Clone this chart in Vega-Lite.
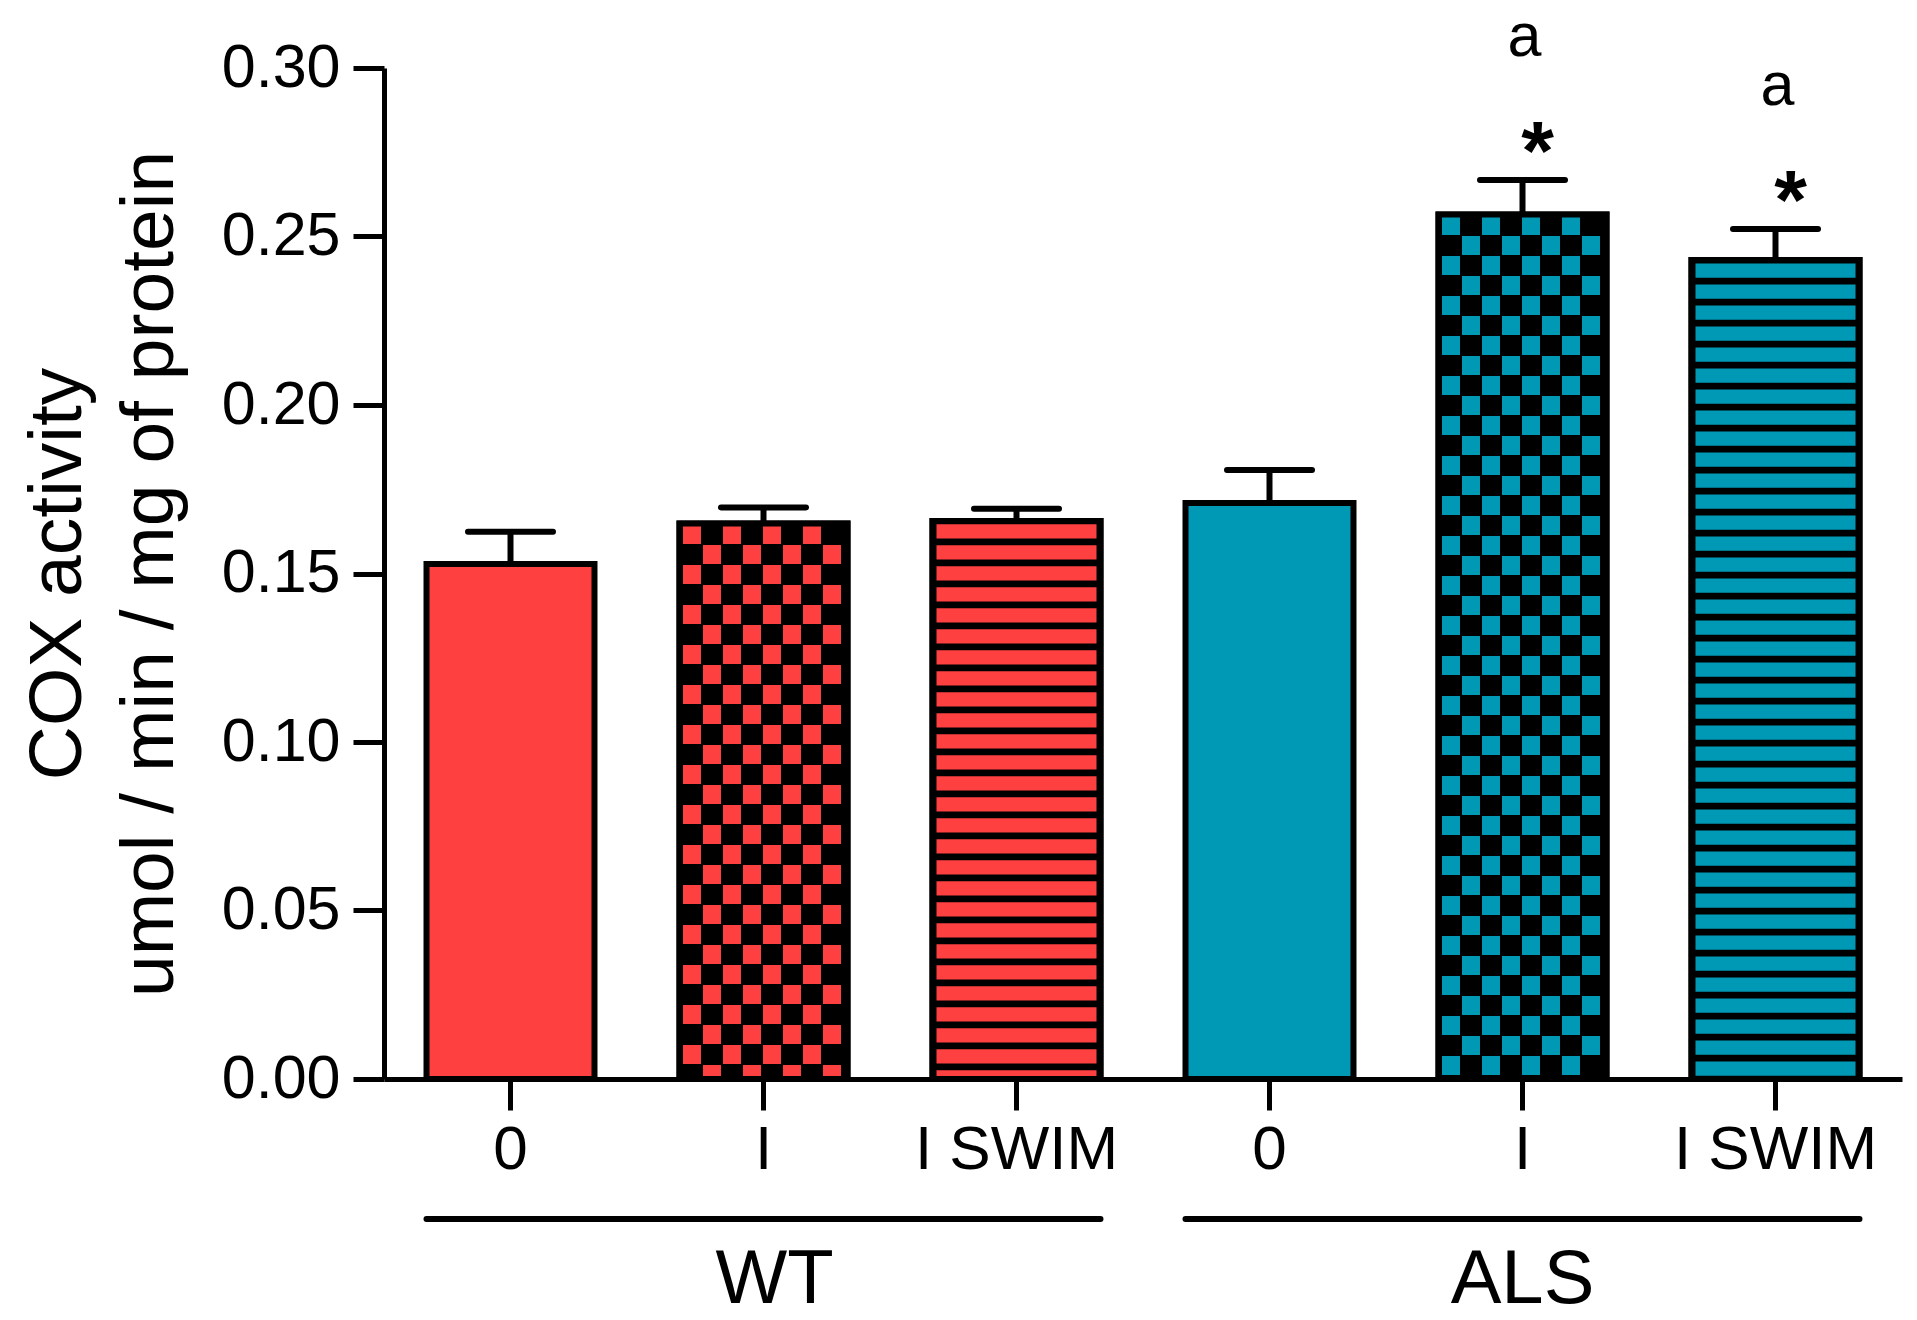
{
  "$schema": "https://vega.github.io/schema/vega-lite/v6.json",
  "autosize": {"type": "none"},
  "padding": {"left": 384, "top": 68, "right": 15, "bottom": 241},
  "width": 1518,
  "height": 1011,
  "background": "white",
  "config": {
    "view": {"stroke": null},
    "font": "Liberation Sans",
    "axis": {
      "domainColor": "black", "tickColor": "black", "labelColor": "black", "titleColor": "black",
      "grid": false, "labelFont": "Liberation Sans", "titleFont": "Liberation Sans",
      "domainWidth": 5, "tickWidth": 5, "tickSize": 31
    },
    "axisX": {"labelFontSize": 62, "labelPadding": 9, "labelAngle": 0, "zindex": 1, "labelOverlap": false, "labelLimit": 500},
    "axisY": {"labelFontSize": 61, "labelPadding": 13, "titleFontSize": 75, "titleFontWeight": "normal", "titleLineHeight": 92, "titlePadding": 33}
  },
  "datasets": {
    "bars": [
      {"cat": "WT|0", "group": "WT", "treatment": "0", "value": 0.1528, "err": 0.1624, "star": "", "letter": ""},
      {"cat": "WT|I", "group": "WT", "treatment": "I", "value": 0.1648, "err": 0.1696, "star": "", "letter": ""},
      {"cat": "WT|I SWIM", "group": "WT", "treatment": "I SWIM", "value": 0.1656, "err": 0.1692, "star": "", "letter": ""},
      {"cat": "ALS|0", "group": "ALS", "treatment": "0", "value": 0.1709, "err": 0.1807, "star": "", "letter": ""},
      {"cat": "ALS|I", "group": "ALS", "treatment": "I", "value": 0.2565, "err": 0.2668, "star": "*", "letter": "a"},
      {"cat": "ALS|I SWIM", "group": "ALS", "treatment": "I SWIM", "value": 0.2430, "err": 0.2522, "star": "*", "letter": "a"}
    ],
    "groups": [
      {"group": "WT", "from": "WT|0", "mid": "WT|I", "to": "WT|I SWIM"},
      {"group": "ALS", "from": "ALS|0", "mid": "ALS|I", "to": "ALS|I SWIM"}
    ]
  },
  "data": {"name": "bars"},
  "layer": [
    {
      "transform": [{"filter": "datum.treatment === '0'"}],
      "mark": {"type": "bar", "stroke": "black", "strokeWidth": 6, "opacity": 1},
      "encoding": {
        "x": {"field": "cat", "type": "nominal", "title": null,
              "scale": {"domain": ["WT|0", "WT|I", "WT|I SWIM", "ALS|0", "ALS|I", "ALS|I SWIM"], "paddingInner": 0.336, "paddingOuter": 0.168},
              "axis": {"labelExpr": "split(datum.value, '|')[1]"}},
        "y": {"field": "value", "type": "quantitative",
              "scale": {"domain": [0, 0.3], "nice": false, "zero": false},
              "axis": {"values": [0, 0.05, 0.1, 0.15, 0.2, 0.25, 0.3], "format": ".2f"},
              "title": ["COX activity", "umol / min / mg of protein"]},
        "color": {"field": "group", "type": "nominal", "scale": {"domain": ["WT", "ALS"], "range": ["#FF4040", "#0099B5"]}, "legend": null}
      }
    },
    {
      "transform": [{"filter": "datum.treatment !== '0'"}],
      "mark": {"type": "bar", "fill": "black", "stroke": "black", "strokeWidth": 6, "opacity": 1},
      "encoding": {
        "x": {"field": "cat", "type": "nominal", "title": null},
        "y": {"field": "value", "type": "quantitative", "title": ["COX activity", "umol / min / mg of protein"]}
      }
    },
    {
      "transform": [{"filter": "datum.treatment === 'I SWIM'"}],
      "mark": {"type": "rule", "strokeWidth": 160, "strokeDash": [14.3, 6.7], "strokeDashOffset": 17.7, "strokeCap": "butt"},
      "encoding": {
        "x": {"field": "cat", "type": "nominal", "title": null},
        "y": {"field": "value", "type": "quantitative", "title": ["COX activity", "umol / min / mg of protein"]},
        "y2": {"datum": 0},
        "color": {"field": "group", "type": "nominal", "legend": null}
      }
    },
    {
      "transform": [{"filter": "datum.treatment === 'I'"}],
      "mark": {"type": "rule", "strokeWidth": 18, "strokeDash": [19, 21], "strokeDashOffset": 38.6, "strokeCap": "butt"},
      "encoding": {
        "x": {"field": "cat", "type": "nominal", "title": null, "bandPosition": 0.0744},
        "y": {"field": "value", "type": "quantitative", "title": ["COX activity", "umol / min / mg of protein"]},
        "y2": {"datum": 0},
        "color": {"field": "group", "type": "nominal", "legend": null}
      }
    },
    {
      "transform": [{"filter": "datum.treatment === 'I'"}],
      "mark": {"type": "rule", "strokeWidth": 18, "strokeDash": [19, 21], "strokeDashOffset": 18.6, "strokeCap": "butt"},
      "encoding": {
        "x": {"field": "cat", "type": "nominal", "title": null, "bandPosition": 0.19345},
        "y": {"field": "value", "type": "quantitative", "title": ["COX activity", "umol / min / mg of protein"]},
        "y2": {"datum": 0},
        "color": {"field": "group", "type": "nominal", "legend": null}
      }
    },
    {
      "transform": [{"filter": "datum.treatment === 'I'"}],
      "mark": {"type": "rule", "strokeWidth": 18, "strokeDash": [19, 21], "strokeDashOffset": 38.6, "strokeCap": "butt"},
      "encoding": {
        "x": {"field": "cat", "type": "nominal", "title": null, "bandPosition": 0.3125},
        "y": {"field": "value", "type": "quantitative", "title": ["COX activity", "umol / min / mg of protein"]},
        "y2": {"datum": 0},
        "color": {"field": "group", "type": "nominal", "legend": null}
      }
    },
    {
      "transform": [{"filter": "datum.treatment === 'I'"}],
      "mark": {"type": "rule", "strokeWidth": 18, "strokeDash": [19, 21], "strokeDashOffset": 18.6, "strokeCap": "butt"},
      "encoding": {
        "x": {"field": "cat", "type": "nominal", "title": null, "bandPosition": 0.43155},
        "y": {"field": "value", "type": "quantitative", "title": ["COX activity", "umol / min / mg of protein"]},
        "y2": {"datum": 0},
        "color": {"field": "group", "type": "nominal", "legend": null}
      }
    },
    {
      "transform": [{"filter": "datum.treatment === 'I'"}],
      "mark": {"type": "rule", "strokeWidth": 18, "strokeDash": [19, 21], "strokeDashOffset": 38.6, "strokeCap": "butt"},
      "encoding": {
        "x": {"field": "cat", "type": "nominal", "title": null, "bandPosition": 0.5506},
        "y": {"field": "value", "type": "quantitative", "title": ["COX activity", "umol / min / mg of protein"]},
        "y2": {"datum": 0},
        "color": {"field": "group", "type": "nominal", "legend": null}
      }
    },
    {
      "transform": [{"filter": "datum.treatment === 'I'"}],
      "mark": {"type": "rule", "strokeWidth": 18, "strokeDash": [19, 21], "strokeDashOffset": 18.6, "strokeCap": "butt"},
      "encoding": {
        "x": {"field": "cat", "type": "nominal", "title": null, "bandPosition": 0.66964},
        "y": {"field": "value", "type": "quantitative", "title": ["COX activity", "umol / min / mg of protein"]},
        "y2": {"datum": 0},
        "color": {"field": "group", "type": "nominal", "legend": null}
      }
    },
    {
      "transform": [{"filter": "datum.treatment === 'I'"}],
      "mark": {"type": "rule", "strokeWidth": 18, "strokeDash": [19, 21], "strokeDashOffset": 38.6, "strokeCap": "butt"},
      "encoding": {
        "x": {"field": "cat", "type": "nominal", "title": null, "bandPosition": 0.78869},
        "y": {"field": "value", "type": "quantitative", "title": ["COX activity", "umol / min / mg of protein"]},
        "y2": {"datum": 0},
        "color": {"field": "group", "type": "nominal", "legend": null}
      }
    },
    {
      "transform": [{"filter": "datum.treatment === 'I'"}],
      "mark": {"type": "rule", "strokeWidth": 18, "strokeDash": [19, 21], "strokeDashOffset": 18.6, "strokeCap": "butt"},
      "encoding": {
        "x": {"field": "cat", "type": "nominal", "title": null, "bandPosition": 0.90774},
        "y": {"field": "value", "type": "quantitative", "title": ["COX activity", "umol / min / mg of protein"]},
        "y2": {"datum": 0},
        "color": {"field": "group", "type": "nominal", "legend": null}
      }
    },
    {
      "transform": [{"filter": "datum.treatment !== '0'"}],
      "mark": {"type": "bar", "fill": "black", "fillOpacity": 0, "stroke": "black", "strokeWidth": 6},
      "encoding": {
        "x": {"field": "cat", "type": "nominal", "title": null},
        "y": {"field": "value", "type": "quantitative", "title": ["COX activity", "umol / min / mg of protein"]}
      }
    },
    {
      "mark": {"type": "rule", "color": "black", "strokeWidth": 6},
      "encoding": {
        "x": {"field": "cat", "type": "nominal", "title": null},
        "y": {"field": "value", "type": "quantitative", "title": ["COX activity", "umol / min / mg of protein"]},
        "y2": {"field": "err"}
      }
    },
    {
      "mark": {"type": "rule", "color": "black", "strokeWidth": 6, "strokeCap": "round"},
      "encoding": {
        "x": {"field": "cat", "type": "nominal", "title": null, "bandPosition": 0.247},
        "x2": {"field": "cat", "bandPosition": 0.753},
        "y": {"field": "err", "type": "quantitative", "title": ["COX activity", "umol / min / mg of protein"]}
      }
    },
    {
      "transform": [{"filter": "datum.star !== ''"}],
      "mark": {"type": "text", "fontSize": 84, "fontWeight": "bold", "baseline": "alphabetic", "align": "center", "dx": 15, "dy": 0, "color": "black"},
      "encoding": {
        "x": {"field": "cat", "type": "nominal", "title": null},
        "y": {"field": "err", "type": "quantitative", "title": ["COX activity", "umol / min / mg of protein"]},
        "text": {"field": "star"}
      }
    },
    {
      "transform": [{"filter": "datum.letter !== ''"}],
      "mark": {"type": "text", "fontSize": 61, "baseline": "alphabetic", "align": "center", "dx": 2, "dy": -124, "color": "black"},
      "encoding": {
        "x": {"field": "cat", "type": "nominal", "title": null},
        "y": {"field": "err", "type": "quantitative", "title": ["COX activity", "umol / min / mg of protein"]},
        "text": {"field": "letter"}
      }
    },
    {
      "data": {"name": "groups"},
      "mark": {"type": "rule", "color": "black", "strokeWidth": 6, "strokeCap": "round"},
      "encoding": {
        "x": {"field": "from", "type": "nominal", "title": null, "bandPosition": 0},
        "x2": {"field": "to", "bandPosition": 1},
        "y": {"datum": -0.04154, "type": "quantitative", "title": ["COX activity", "umol / min / mg of protein"]}
      }
    },
    {
      "data": {"name": "groups"},
      "transform": [{"filter": "datum.group === 'WT'"}],
      "mark": {"type": "text", "fontSize": 76, "baseline": "alphabetic", "align": "center", "color": "black", "dx": 11},
      "encoding": {
        "x": {"field": "mid", "type": "nominal", "title": null},
        "y": {"datum": -0.06647, "type": "quantitative", "title": ["COX activity", "umol / min / mg of protein"]},
        "text": {"field": "group"}
      }
    },
    {
      "data": {"name": "groups"},
      "transform": [{"filter": "datum.group === 'ALS'"}],
      "mark": {"type": "text", "fontSize": 76, "baseline": "alphabetic", "align": "center", "color": "black"},
      "encoding": {
        "x": {"field": "mid", "type": "nominal", "title": null},
        "y": {"datum": -0.06647, "type": "quantitative", "title": ["COX activity", "umol / min / mg of protein"]},
        "text": {"field": "group"}
      }
    }
  ]
}
